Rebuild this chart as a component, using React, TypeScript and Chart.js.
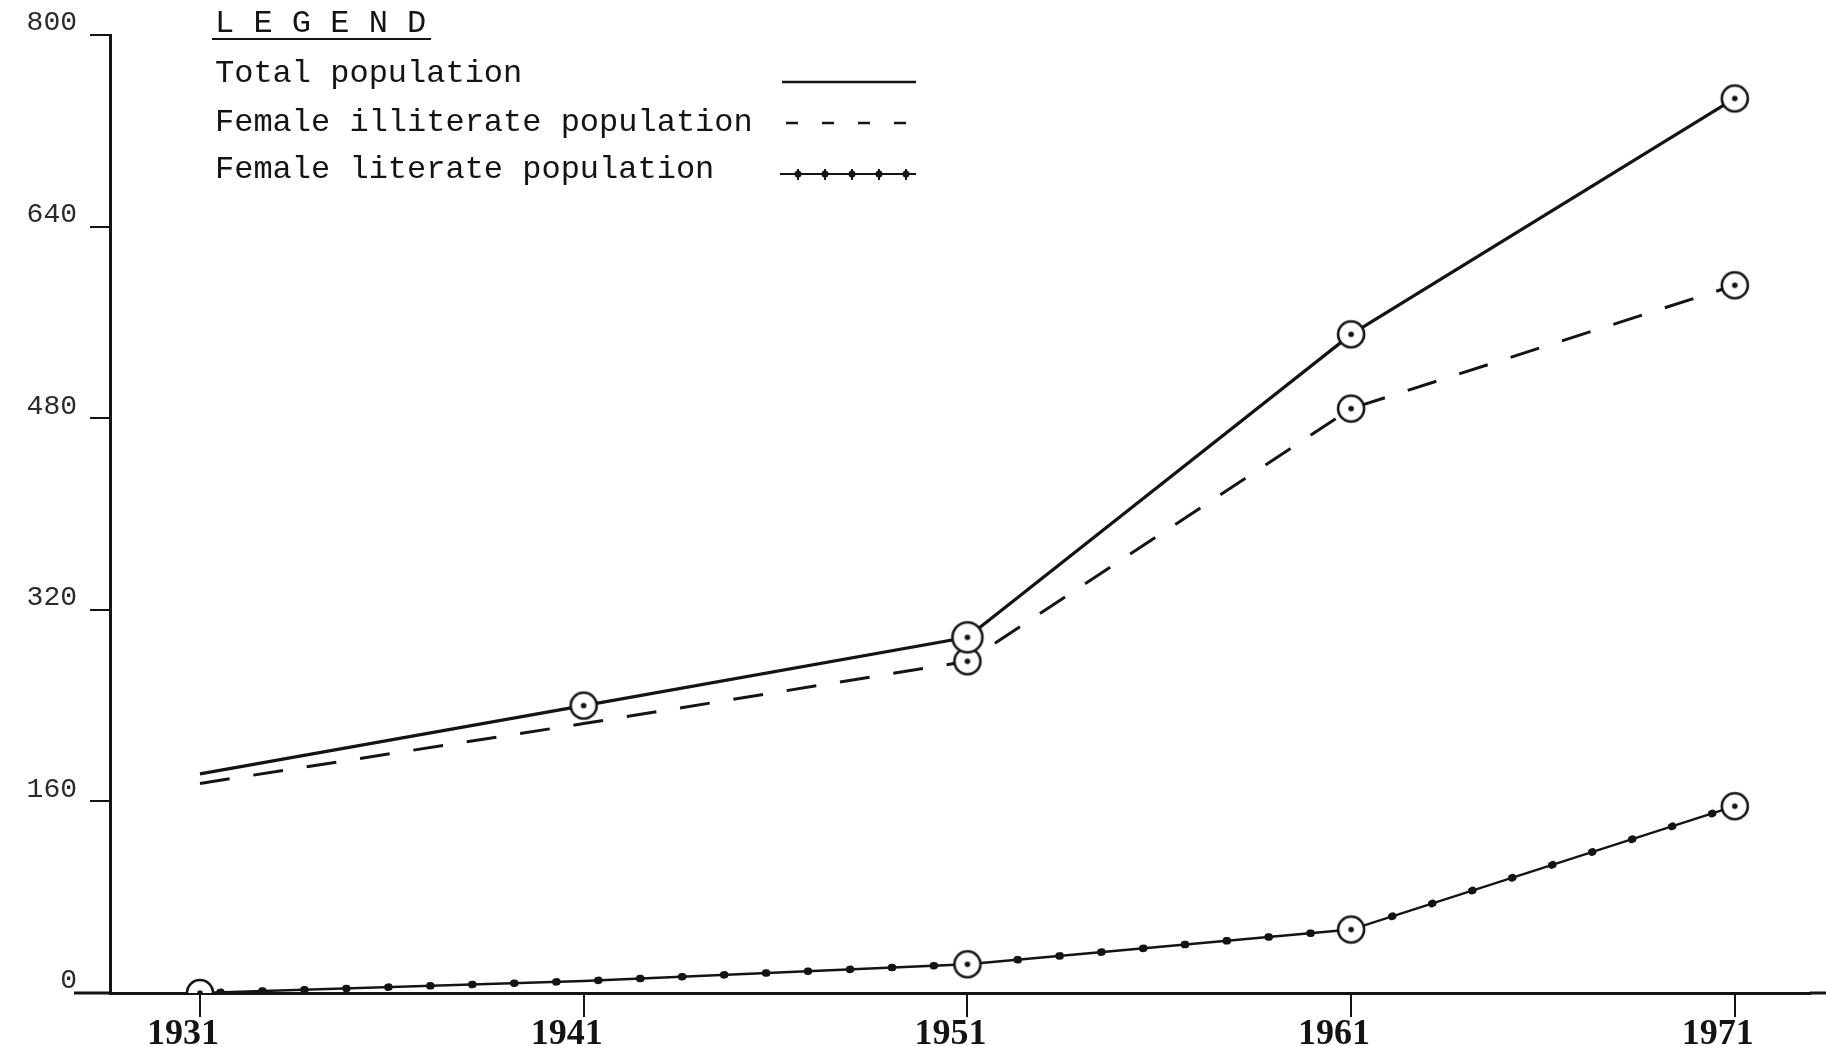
import React, { useEffect, useRef } from "react";
import { Chart, registerables } from "chart.js";

Chart.register(...registerables);

// ---- data ----
const YEARS = [1931, 1941, 1951, 1961, 1971];
const TOTAL_POPULATION = [183, 240, 297, 550, 747];
const FEMALE_ILLITERATE = [175, 225, 277, 488, 591];
const FEMALE_LITERATE = [0, 10, 24, 53, 156];
const Y_TICKS = [0, 160, 320, 480, 640, 800];
const LEGEND_TITLE = "L E G E N D";
const LEGEND_LABELS = [
  "Total population",
  "Female illiterate population",
  "Female literate population",
];
// which points carry a circled-dot marker
const TOTAL_MARKED = [false, true, true, true, true];
const ILLITERATE_MARKED = [false, false, true, true, true];
const LITERATE_MARKED = [true, false, true, true, true];

const INK = "#141414";
const MONO = '"Liberation Mono", "DejaVu Sans Mono", monospace';
const SERIF = '"Liberation Serif", "DejaVu Serif", serif';

function makeMarker(r: number): HTMLCanvasElement {
  const c = document.createElement("canvas");
  const s = Math.ceil(2 * r + 8);
  c.width = s;
  c.height = s;
  const g = c.getContext("2d")!;
  g.fillStyle = "#fff";
  g.strokeStyle = INK;
  g.lineWidth = 2.6;
  g.beginPath();
  g.arc(s / 2, s / 2, r, 0, Math.PI * 2);
  g.fill();
  g.stroke();
  g.fillStyle = INK;
  g.beginPath();
  g.arc(s / 2, s / 2, 2.8, 0, Math.PI * 2);
  g.fill();
  return c;
}

const legendPlugin = {
  id: "typedLegend",
  afterDraw(chart: any) {
    const ctx = chart.ctx as CanvasRenderingContext2D;
    ctx.save();
    ctx.fillStyle = INK;
    ctx.strokeStyle = INK;

    // x-axis line continues a little beyond the plotting area on both sides
    const y0 = chart.scales.y.getPixelForValue(0);
    ctx.lineWidth = 3;
    ctx.beginPath();
    ctx.moveTo(chart.chartArea.left - 36, y0);
    ctx.lineTo(chart.chartArea.left, y0);
    ctx.moveTo(chart.chartArea.right, y0);
    ctx.lineTo(chart.width, y0);
    ctx.stroke();

    ctx.textBaseline = "alphabetic";
    ctx.textAlign = "left";
    ctx.font = `32px ${MONO}`;
    ctx.fillText(LEGEND_TITLE, 215, 32);
    ctx.lineWidth = 2;
    ctx.beginPath();
    ctx.moveTo(212, 39);
    ctx.lineTo(431, 39);
    ctx.stroke();

    const baselines = [82, 131, 178];
    LEGEND_LABELS.forEach((t, i) => ctx.fillText(t, 215, baselines[i]));

    const x0 = 782;
    const x1 = 916;
    // solid
    ctx.lineWidth = 2.5;
    ctx.beginPath();
    ctx.moveTo(x0, 82);
    ctx.lineTo(x1, 82);
    ctx.stroke();
    // dashed
    ctx.setLineDash([12, 24]);
    ctx.beginPath();
    ctx.moveTo(x0 + 4, 123);
    ctx.lineTo(x1, 123);
    ctx.stroke();
    ctx.setLineDash([]);
    // dotted-cross line
    ctx.lineWidth = 2;
    ctx.beginPath();
    ctx.moveTo(x0 - 2, 174);
    ctx.lineTo(x1, 174);
    ctx.stroke();
    for (let x = x0 + 16; x < x1; x += 27) {
      ctx.beginPath();
      ctx.arc(x, 174, 3.5, 0, Math.PI * 2);
      ctx.fill();
      ctx.beginPath();
      ctx.moveTo(x, 169);
      ctx.lineTo(x, 180);
      ctx.stroke();
    }
    ctx.restore();
  },
};

export default function App() {
  const ref = useRef<HTMLCanvasElement | null>(null);

  useEffect(() => {
    if (!ref.current) return;
    const m = makeMarker(13);
    const big = makeMarker(15);

    const pts = (vals: number[]) => vals.map((v, i) => ({ x: YEARS[i], y: v }));

    const chart = new Chart(ref.current, {
      type: "line",
      data: {
        datasets: [
          {
            label: LEGEND_LABELS[0],
            data: pts(TOTAL_POPULATION),
            borderColor: INK,
            borderWidth: 3.2,
            pointStyle: TOTAL_POPULATION.map((_, i) => (i === 2 ? big : m)) as any,
            pointRadius: TOTAL_MARKED.map((b) => (b ? 13 : 0)),
            tension: 0,
          },
          {
            label: LEGEND_LABELS[1],
            data: pts(FEMALE_ILLITERATE),
            borderColor: INK,
            borderWidth: 3,
            borderDash: [30, 24],
            pointStyle: m as any,
            pointRadius: ILLITERATE_MARKED.map((b) => (b ? 13 : 0)),
            tension: 0,
          },
          {
            label: LEGEND_LABELS[2],
            data: pts(FEMALE_LITERATE),
            borderColor: INK,
            borderWidth: 2.4,
            pointStyle: m as any,
            pointRadius: LITERATE_MARKED.map((b) => (b ? 13 : 0)),
            tension: 0,
          },
          {
            label: "literate-dots",
            data: pts(FEMALE_LITERATE),
            borderColor: INK,
            borderWidth: 7.5,
            borderDash: [1, 41],
            borderDashOffset: -20,
            borderCapStyle: "round",
            pointRadius: 0,
            tension: 0,
          },
        ],
      },
      options: {
        responsive: false,
        animation: false,
        events: [],
        layout: { padding: { top: 35, right: 0, left: 0, bottom: 0 } },
        plugins: {
          legend: { display: false },
          tooltip: { enabled: false },
          title: { display: false },
        },
        scales: {
          x: {
            type: "linear",
            min: 1928.655,
            max: 1972.955,
            afterBuildTicks: (s: any) => {
              s.ticks = YEARS.map((v) => ({ value: v }));
            },
            afterFit: (s: any) => {
              s.height = 53;
            },
            ticks: {
              autoSkip: false,
              maxRotation: 0,
              color: INK,
              font: { family: SERIF, size: 36, weight: "bold" },
              padding: -4,
              labelOffset: -17,
              callback: (v: any) => String(v),
            },
            grid: {
              drawOnChartArea: false,
              drawTicks: true,
              tickLength: 24,
              color: INK,
              lineWidth: 2,
            },
            border: { display: true, color: INK, width: 3 },
          },
          y: {
            type: "linear",
            min: 0,
            max: 800,
            afterBuildTicks: (s: any) => {
              s.ticks = Y_TICKS.map((v) => ({ value: v }));
            },
            afterFit: (s: any) => {
              s.width = 110;
            },
            ticks: {
              color: "#2a2a2a",
              font: { family: MONO, size: 28 },
              padding: 13,
              labelOffset: -12,
              callback: (v: any) => String(v),
            },
            grid: {
              drawOnChartArea: false,
              drawTicks: true,
              tickLength: 20,
              color: INK,
              lineWidth: 2,
            },
            border: { display: true, color: INK, width: 3 },
          },
        },
      },
      plugins: [legendPlugin],
    });
    return () => chart.destroy();
  }, []);

  return (
    <div
      style={{
        position: "fixed",
        left: 0,
        top: 0,
        width: 1826,
        height: 1046,
        background: "#fff",
        overflow: "hidden",
      }}
    >
      <canvas ref={ref} width={1826} height={1046} style={{ width: 1826, height: 1046, display: "block" }} />
    </div>
  );
}
